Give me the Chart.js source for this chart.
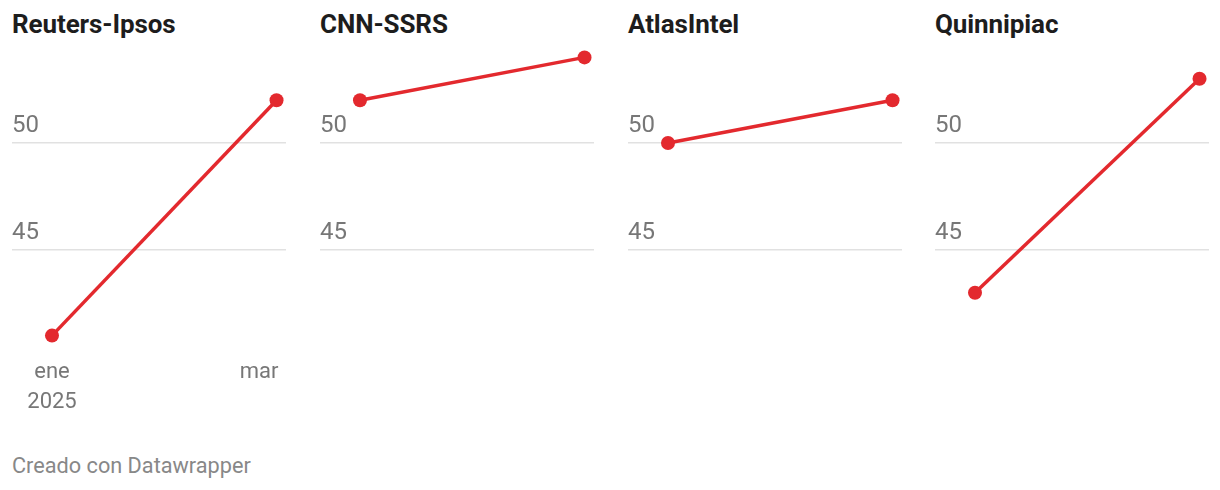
<!DOCTYPE html>
<html>
<head>
<meta charset="utf-8">
<script src="https://cdn.jsdelivr.net/npm/chart.js@4"></script>
<style>
  body { margin: 0; background: #fff; font-family: Roboto, sans-serif; }
  #wrap { position: relative; width: 1220px; height: 490px; }
  .panel { position: absolute; top: 0; width: 290px; height: 440px; }
  .titulo { position: absolute; left: 6px; top: 9px; font-size: 26px; font-weight: 700; color: #1d1d1d; letter-spacing: -0.1px; }
  .panel canvas { position: absolute; left: 0; top: 40px; }
  #pie { position: absolute; left: 12px; top: 453px; font-size: 21.7px; color: #888; }
</style>
</head>
<body>
<div id="wrap">
  <div id="pie">Creado con Datawrapper</div>
</div>
<script>
// Encuestas (aprobación, %)
const encuestadoras = ['Reuters-Ipsos', 'CNN-SSRS', 'AtlasIntel', 'Quinnipiac'];
const fechas = [0, 64]; // días desde el 1 de enero de 2025
const reutersIpsos = [41, 52];
const cnnSsrs = [52, 54];
const atlasIntel = [50, 52];
const quinnipiac = [43, 53];
const series = [reutersIpsos, cnnSsrs, atlasIntel, quinnipiac];

const ticksY = [45, 50];
const ticksX = [0, 59];
const etiquetasX = { 0: ['ene', '2025'], 59: ['mar'] };

const posiciones = [6, 314, 622, 929];
const rojo = '#e3292e';

encuestadoras.forEach((nombre, i) => {
  const panel = document.createElement('div');
  panel.className = 'panel';
  panel.style.left = posiciones[i] + 'px';
  panel.innerHTML = `<div class="titulo">${nombre}</div><canvas width="290" height="400"></canvas>`;
  document.getElementById('wrap').appendChild(panel);

  new Chart(panel.querySelector('canvas'), {
    type: 'line',
    data: {
      datasets: [{
        data: fechas.map((f, j) => ({ x: f, y: series[i][j] })),
        borderColor: rojo,
        backgroundColor: rojo,
        borderWidth: 3.5,
        pointRadius: 7,
        pointBorderWidth: 0,
        pointHoverRadius: 7,
        clip: false
      }]
    },
    options: {
      responsive: false,
      animation: false,
      events: [],
      layout: { autoPadding: false, padding: { left: 6, right: 10, top: 17.4, bottom: 0 } },
      plugins: { legend: { display: false }, tooltip: { enabled: false } },
      scales: {
        x: {
          type: 'linear',
          min: -11.4,
          max: 66.7,
          afterBuildTicks: s => { s.ticks = ticksX.map(v => ({ value: v })); },
          afterFit: s => { s.height = 104.4; s.paddingLeft = 0; s.paddingRight = 0; },
          grid: { display: false, drawTicks: false },
          border: { display: false },
          ticks: {
            color: i === 0 ? '#777' : 'rgba(0,0,0,0)',
            font: { family: 'Roboto', size: 22, lineHeight: 1.36 },
            padding: 22,
            maxRotation: 0,
            autoSkip: false,
            callback: v => etiquetasX[v]
          }
        },
        y: {
          min: 41,
          max: 54,
          afterBuildTicks: s => { s.ticks = ticksY.map(v => ({ value: v })); },
          afterFit: s => { s.width = 0; s.paddingTop = 0; s.paddingBottom = 0; },
          grid: { color: '#e1e1e1', lineWidth: 1.5, drawTicks: false },
          border: { display: false },
          ticks: {
            mirror: true,
            padding: 0,
            labelOffset: -17,
            color: '#777',
            font: { family: 'Roboto', size: 24 }
          }
        }
      }
    }
  });
});
</script>
</body>
</html>
